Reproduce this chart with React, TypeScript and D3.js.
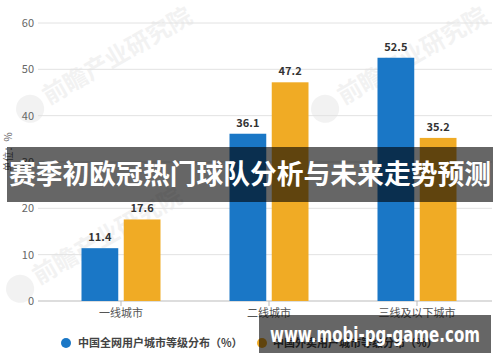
import React from "react";
import * as d3 from "d3";

const categories = ["一线城市", "二线城市", "三线及以下城市"];
const seriesNames = ["中国全网用户城市等级分布（%）", "中国外卖用户城市等级分布（%）"];
const allUsers = [11.4, 36.1, 52.5];
const takeoutUsers = [17.6, 47.2, 35.2];
const yTicks = [0, 10, 20, 30, 40, 50, 60];
const colors = ["#1a77c6", "#f0ab25"];

const W = 500;
const H = 362;

export default function App() {
  const x0 = d3.scaleBand<string>().domain(categories).range([47, 491]);
  const x1 = d3
    .scaleBand<number>()
    .domain([0, 1])
    .range([0, 79])
    .paddingInner(0.13);
  const y = d3.scaleLinear().domain([0, 60]).range([301, 23]);
  const series = [allUsers, takeoutUsers];
  const font = "'Microsoft YaHei','Noto Sans CJK SC',sans-serif";

  return (
    <svg
      width={W}
      height={H}
      style={{ position: "absolute", left: 0, top: 0, background: "#fff" }}
      fontFamily={font}
    >
      <rect width={W} height={H} fill="#fff" />
      {/* watermarks */}
      {[
        [40, 110],
        [335, 110],
        [30, 290],
      ].map(([wx, wy], i) => (
        <g key={i} transform={`translate(${wx},${wy}) rotate(-30)`} opacity={0.12}>
          <circle cx={-8} cy={-6} r={14} fill="#999" />
          <text x={10} y={0} fontSize={24} fontWeight="bold" fill="#999">
            前瞻产业研究院
          </text>
        </g>
      ))}
      {/* grid */}
      {yTicks.map((t) => (
        <g key={t}>
          <line
            x1={38}
            x2={492}
            y1={y(t)}
            y2={y(t)}
            stroke={t === 0 ? "#bbb" : "#e2e2e2"}
            strokeWidth={1}
          />
          <text
            x={34}
            y={y(t)}
            dy="0.35em"
            textAnchor="end"
            fontSize={11}
            fill="#666"
          >
            {t}
          </text>
        </g>
      ))}
      {/* x ticks */}
      {categories.map((c) => {
        const cx = (x0(c) ?? 0) + x0.bandwidth() / 2;
        return (
          <g key={c}>
            <line x1={cx} x2={cx} y1={301} y2={306} stroke="#bbb" />
            <text x={cx} y={317} textAnchor="middle" fontSize={11} fill="#555">
              {c}
            </text>
          </g>
        );
      })}
      {/* bars */}
      {categories.map((c, ci) => {
        const gx = (x0(c) ?? 0) + x0.bandwidth() / 2 - 39.5;
        return series.map((s, si) => {
          const bx = gx + (x1(si) ?? 0);
          const v = s[ci];
          return (
            <g key={`${ci}-${si}`}>
              <rect
                x={bx}
                y={y(v)}
                width={x1.bandwidth()}
                height={301 - y(v)}
                fill={colors[si]}
              />
              <text
                x={bx + x1.bandwidth() / 2}
                y={y(v) - 7}
                textAnchor="middle"
                fontSize={11}
                fontWeight="bold"
                fill="#333"
              >
                {v.toFixed(1)}
              </text>
            </g>
          );
        });
      })}
      {/* y axis title */}
      <text
        transform="translate(12,152) rotate(-90)"
        textAnchor="middle"
        fontSize={10}
        fill="#666"
      >
        单位：%
      </text>
      {/* legend */}
      <circle cx={66} cy={343} r={5} fill={colors[0]} />
      <text x={78} y={347} fontSize={11} fontWeight="bold" fill="#444">
        {seriesNames[0]}
      </text>
      <circle cx={262} cy={343} r={5} fill={colors[1]} />
      <text x={273} y={347} fontSize={11} fontWeight="bold" fill="#444">
        {seriesNames[1]}
      </text>
      {/* title overlay */}
      <rect x={7} y={147} width={486} height={55} fill="rgba(0,0,0,0.6)" />
      <text
        x={250}
        y={175}
        dy="0.35em"
        textAnchor="middle"
        fontSize={27}
        fontWeight="bold"
        fill="#fff"
        fontFamily="'Noto Sans CJK SC',sans-serif"
        textLength={482}
        lengthAdjust="spacingAndGlyphs"
      >
        赛季初欧冠热门球队分析与未来走势预测
      </text>
      {/* url overlay */}
      <rect x={259} y={315} width={232} height={38} fill="rgba(0,0,0,0.6)" />
      <text
        x={375}
        y={334}
        dy="0.35em"
        textAnchor="middle"
        fontSize={22}
        fontWeight="bold"
        fill="#fff"
        fontFamily="'DejaVu Sans',sans-serif"
        textLength={210}
        lengthAdjust="spacingAndGlyphs"
      >
        www.mobi-pg-game.com
      </text>
    </svg>
  );
}
